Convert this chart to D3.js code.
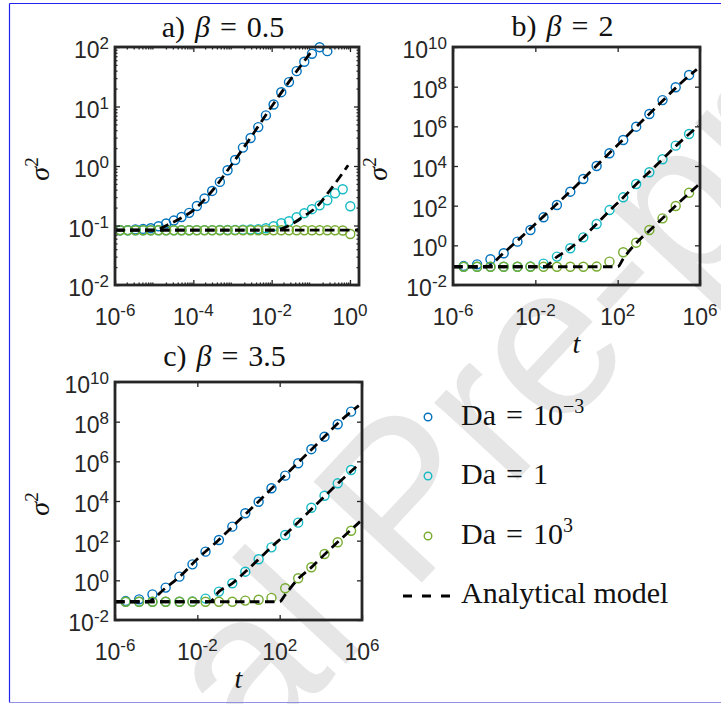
<!DOCTYPE html>
<html>
<head>
<meta charset="utf-8">
<script src="https://cdn.jsdelivr.net/npm/d3@7"></script>
<style>
  body { margin: 0; background: #fff; }
  svg { display: block; }
</style>
</head>
<body>
<svg id="fig" width="721" height="704"></svg>
<script>
// ---------- data ----------
// panel a (beta = 0.5): sampling times and variance per Damkohler number
const tA = [1.35e-6, 2.12e-6, 3.33e-6, 5.22e-6, 8.2e-6, 1.29e-5, 2.02e-5, 3.18e-5, 4.99e-5, 7.83e-5,
            1.23e-4, 1.93e-4, 3.03e-4, 4.76e-4, 7.48e-4, 1.17e-3, 1.85e-3, 2.9e-3, 4.55e-3, 7.14e-3,
            1.12e-2, 1.76e-2, 2.77e-2, 4.35e-2, 6.82e-2, 0.107, 0.168, 0.264, 0.415, 0.652, 1.02];
const sA_da1em3 = [0.0834, 0.0834, 0.0857, 0.0877, 0.0901, 0.0973, 0.108, 0.121, 0.139, 0.163,
                   0.213, 0.284, 0.381, 0.54, 0.848, 1.26, 2.04, 2.95, 4.51, 7.09,
                   10.8, 17.4, 25.7, 39.3, 56.5, 76.9, 99.3, 85.1];
const sA_da1 = [0.0833, 0.0833, 0.0833, 0.0833, 0.0833, 0.0833, 0.0833, 0.0833, 0.0833, 0.0833,
                0.0835, 0.0835, 0.0836, 0.0838, 0.084, 0.0843, 0.0848, 0.0857, 0.087, 0.090,
                0.097, 0.109, 0.118, 0.138, 0.161, 0.188, 0.218, 0.266, 0.348, 0.406, 0.211];
const sA_da1e3 = [0.0833, 0.0833, 0.0833, 0.0833, 0.0833, 0.0833, 0.0833, 0.0833, 0.0833, 0.0833,
                  0.0833, 0.0833, 0.0833, 0.0833, 0.0833, 0.0833, 0.0833, 0.0833, 0.0833, 0.0833,
                  0.0833, 0.0833, 0.0833, 0.0833, 0.0833, 0.0833, 0.0833, 0.0833, 0.0830, 0.0825, 0.072];

// panels b (beta = 2) and c (beta = 3.5) share one set of sampling times
const tBC = [3.3e-6, 1.48e-5, 6.6e-5, 2.9e-4, 1.35e-3, 5.8e-3, 2.5e-2, 0.112, 0.5, 2.14,
             9.5, 40, 186, 794, 3470, 1.51e4, 6.6e4, 2.95e5];
const sB_da1em3 = [0.09, 0.11, 0.198, 0.397, 1.53, 5.94, 25.9, 108, 507, 2210,
                   1.0e4, 4.4e4, 2.05e5, 9.6e5, 4.2e6, 2.1e7, 9.3e7, 3.9e8];
const sB_da1 = [0.0833, 0.0833, 0.0833, 0.0833, 0.0835, 0.085, 0.12, 0.27, 0.71, 2.53,
                11.9, 60, 264, 1240, 4820, 2.18e4, 1.06e5, 4.1e5];
const sB_da1e3 = [0.0833, 0.0833, 0.0833, 0.0833, 0.0833, 0.0833, 0.0833, 0.0833, 0.0833, 0.0833,
                  0.085, 0.15, 0.45, 1.36, 5.9, 23, 96, 450];
const sC_da1em3 = [0.09, 0.11, 0.197, 0.43, 1.53, 6.4, 27.9, 108, 509, 2400,
                   9200, 4.4e4, 1.9e5, 8.0e5, 4.1e6, 1.75e7, 7.4e7, 3.2e8];
const sC_da1 = [0.0833, 0.0833, 0.0833, 0.0833, 0.0835, 0.085, 0.12, 0.27, 0.71, 2.73,
                11.5, 46, 193, 810, 4570, 1.85e4, 7.8e4, 3.67e5];
const sC_da1e3 = [0.0833, 0.0833, 0.0833, 0.0833, 0.0833, 0.0833, 0.0833, 0.0833, 0.0833, 0.095,
                  0.105, 0.13, 0.40, 1.27, 4.55, 21.3, 83, 318];

// analytical model curves (time, variance)
const mA1em3_t = [1e-6, 1e-5, 2.4e-5, 5e-5, 1e-4, 3e-4, 1e-3, 3e-3, 1e-2, 3e-2, 0.11];
const mA1em3_s = [0.0833, 0.0833, 0.105, 0.135, 0.18, 0.38, 1.1, 3.1, 10, 28, 88];
const mA1_t = [1e-6, 1.2e-2, 2.9e-2, 6.2e-2, 0.14, 0.31, 0.9];
const mA1_s = [0.0833, 0.0833, 0.101, 0.139, 0.205, 0.391, 1.03];
const mA1e3_t = [1e-6, 1.7];
const mA1e3_s = [0.0833, 0.0833];

const mB1em3_t = [1e-6, 4e-5, 2.8e-4, 1e-3, 1e-2, 0.1, 1, 10, 100, 1e3, 1e4, 1e5, 7e5];
const mB1em3_s = [0.0833, 0.0833, 0.40, 1.3, 12, 110, 1050, 1.1e4, 1.15e5, 1.2e6, 1.25e7, 1.3e8, 7.5e8];
const mB1_t = [1e-6, 0.025, 0.112, 0.5, 2.14, 9.5, 40, 186, 794, 3470, 1.51e4, 6.6e4, 8.3e5];
const mB1_s = [0.0833, 0.0833, 0.26, 0.72, 2.6, 12, 55, 260, 1200, 5000, 2.2e4, 1.0e5, 1.05e6];
const mB1e3_t = [1e-6, 100, 190, 794, 3470, 1.51e4, 6.6e4, 8.3e5];
const mB1e3_s = [0.0833, 0.0833, 0.22, 1.3, 5.5, 23, 100, 1100];

const mC1em3_t = [1e-6, 3.5e-5, 2.9e-4, 1.35e-3, 1e-2, 0.1, 1, 10, 100, 1e3, 1e4, 1e5, 7e5];
const mC1em3_s = [0.0833, 0.0833, 0.42, 1.5, 12, 100, 1000, 1.0e4, 1.05e5, 1.1e6, 1.15e7, 1.2e8, 6.5e8];
const mC1_t = [1e-6, 0.04, 0.112, 0.5, 2.14, 9.5, 40, 186, 794, 3470, 1.51e4, 6.6e4, 8e5];
const mC1_s = [0.0833, 0.0833, 0.27, 0.71, 2.7, 11.5, 48, 200, 850, 3800, 1.7e4, 7.5e4, 8e5];
const mC1e3_t = [1e-6, 100, 180, 794, 3470, 1.51e4, 6.6e4, 8e5];
const mC1e3_s = [0.0833, 0.0833, 0.18, 1.2, 4.5, 20, 85, 910];

// axis ticks and their exponent labels
const xTicksA = [1e-6, 1e-4, 1e-2, 1];
const xExpA = ["-6", "-4", "-2", "0"];
const yTicksA = [1e-2, 1e-1, 1, 10, 100];
const yExpA = ["-2", "-1", "0", "1", "2"];
const xTicksBC = [1e-6, 1e-2, 1e2, 1e6];
const xExpBC = ["-6", "-2", "2", "6"];
const yTicksBC = [1e-2, 1, 1e2, 1e4, 1e6, 1e8, 1e10];
const yExpBC = ["-2", "0", "2", "4", "6", "8", "10"];

// legend entries
const legendNames = ["Da = 10", "Da = 1", "Da = 10"];
const legendExp = ["\u22123", "", "3"];
const seriesColors = ["#0072BD", "#16BAC4", "#77AC30"];

// ---------- drawing ----------
const SANS = "'Liberation Sans', Arial, Helvetica, sans-serif";
const SERIF = "'Liberation Serif', 'Times New Roman', serif";
const INK = "#262626";
const svg = d3.select("#fig");

// background watermark
svg.append("text")
  .attr("transform", "translate(-112,1155) rotate(-47)")
  .attr("font-family", SANS)
  .attr("font-size", 215)
  .attr("fill", "#e6e6e6")
  .text("Journal Pre-proof");

// page frame
svg.append("line").attr("x1", 9.5).attr("x2", 9.5).attr("y1", 3.5).attr("y2", 702.5)
  .attr("stroke", "#2222ee").attr("stroke-width", 1.2);
svg.append("line").attr("x1", 9.5).attr("x2", 721).attr("y1", 3.5).attr("y2", 3.5)
  .attr("stroke", "#2222ee").attr("stroke-width", 1.2);
svg.append("line").attr("x1", 9.5).attr("x2", 721).attr("y1", 702.5).attr("y2", 702.5)
  .attr("stroke", "#9090e6").attr("stroke-width", 1);

function minorTicks(lo, hi) {
  const out = [];
  const e0 = Math.floor(Math.log10(lo)), e1 = Math.ceil(Math.log10(hi));
  for (let e = e0; e <= e1; e++) {
    for (let m = 2; m <= 9; m++) {
      const v = m * Math.pow(10, e);
      if (v > lo && v < hi) out.push(v);
    }
  }
  return out;
}

function expLabel(g, x, y, exp, anchor) {
  const t = g.append("text")
    .attr("x", x).attr("y", y)
    .attr("text-anchor", anchor)
    .attr("font-family", SANS).attr("font-size", 23).attr("fill", INK);
  t.append("tspan").text("10");
  t.append("tspan").attr("font-size", 17).attr("dy", -9).text(exp);
}

function drawPanel(p) {
  const x = d3.scaleLog().domain(p.xDomain).range([p.left, p.right]);
  const y = d3.scaleLog().domain(p.yDomain).range([p.bottom, p.top]);
  const g = svg.append("g");

  // data markers
  p.series.forEach((s, i) => {
    g.append("g").selectAll("circle")
      .data(d3.zip(s.t, s.v))
      .join("circle")
      .attr("cx", d => x(d[0]))
      .attr("cy", d => y(d[1]))
      .attr("r", 4.5)
      .attr("fill", "none")
      .attr("stroke", seriesColors[i])
      .attr("stroke-width", 1.4);
  });

  // analytical model
  const line = d3.line().x(d => x(d[0])).y(d => y(d[1])).curve(d3.curveMonotoneX);
  p.models.forEach(m => {
    g.append("path")
      .attr("d", line(d3.zip(m.t, m.v)))
      .attr("fill", "none")
      .attr("stroke", "#000")
      .attr("stroke-width", 2.8)
      .attr("stroke-dasharray", "9.5,5.5");
  });

  // ticks on all four sides, pointing inward
  const tickStyle = sel => {
    sel.select(".domain").remove();
    sel.selectAll("line").attr("stroke", INK).attr("stroke-width", 1.3);
  };
  const addAxes = (xv, yv, len) => {
    g.append("g").attr("transform", `translate(0,${p.bottom})`)
      .call(d3.axisBottom(x).tickValues(xv).tickSize(-len).tickFormat("")).call(tickStyle);
    g.append("g").attr("transform", `translate(0,${p.top})`)
      .call(d3.axisTop(x).tickValues(xv).tickSize(-len).tickFormat("")).call(tickStyle);
    g.append("g").attr("transform", `translate(${p.left},0)`)
      .call(d3.axisLeft(y).tickValues(yv).tickSize(-len).tickFormat("")).call(tickStyle);
    g.append("g").attr("transform", `translate(${p.right},0)`)
      .call(d3.axisRight(y).tickValues(yv).tickSize(-len).tickFormat("")).call(tickStyle);
  };
  addAxes(p.xTicks, p.yTicks, 5);
  if (p.minor) {
    addAxes(minorTicks(p.xDomain[0], p.xDomain[1]), minorTicks(p.yDomain[0], p.yDomain[1]), 2.5);
  }

  // box
  g.append("rect")
    .attr("x", p.left).attr("y", p.top)
    .attr("width", p.right - p.left).attr("height", p.bottom - p.top)
    .attr("fill", "none").attr("stroke", INK).attr("stroke-width", 2.8);

  // tick labels
  p.xTicks.forEach((v, i) => expLabel(g, x(v), p.bottom + 40, p.xExp[i], "middle"));
  p.yTicks.forEach((v, i) => expLabel(g, p.left - 6, y(v) + 11, p.yExp[i], "end"));

  // title
  const cx = (p.left + p.right) / 2 - 14;
  const title = g.append("text")
    .attr("x", cx).attr("y", p.titleY)
    .attr("text-anchor", "middle")
    .attr("font-family", SERIF).attr("font-size", 30).attr("fill", "#111");
  title.append("tspan").text(p.tag + ")\u2004");
  title.append("tspan").attr("font-style", "italic").text("\u03B2");
  title.append("tspan").text("\u2004=\u2004" + p.beta);

  // y label
  const yl = g.append("text")
    .attr("transform", `translate(${p.left - 66},${(p.top + p.bottom) / 2 + 3}) rotate(-90)`)
    .attr("text-anchor", "middle")
    .attr("font-family", SERIF).attr("font-size", 28).attr("fill", "#111");
  yl.append("tspan").attr("font-style", "italic").text("\u03C3");
  yl.append("tspan").attr("font-size", 19).attr("dy", -11).text("2");

  // x label
  if (p.xLabel) {
    g.append("text")
      .attr("x", (p.left + p.right) / 2).attr("y", p.bottom + 68)
      .attr("text-anchor", "middle")
      .attr("font-family", SERIF).attr("font-size", 28).attr("font-style", "italic")
      .attr("fill", "#111")
      .text("t");
  }
}

drawPanel({
  tag: "a", beta: "0.5", titleY: 37,
  left: 115, right: 359, top: 47, bottom: 285,
  xDomain: [1e-6, 1.7], yDomain: [1e-2, 1e2],
  xTicks: xTicksA, xExp: xExpA, yTicks: yTicksA, yExp: yExpA, minor: true, xLabel: false,
  series: [{t: tA.slice(0, sA_da1em3.length), v: sA_da1em3}, {t: tA, v: sA_da1}, {t: tA, v: sA_da1e3}],
  models: [{t: mA1e3_t, v: mA1e3_s}, {t: mA1_t, v: mA1_s}, {t: mA1em3_t, v: mA1em3_s}]
});

drawPanel({
  tag: "b", beta: "2", titleY: 36,
  left: 453, right: 700, top: 47, bottom: 285,
  xDomain: [1e-6, 1e6], yDomain: [1e-2, 1e10],
  xTicks: xTicksBC, xExp: xExpBC, yTicks: yTicksBC, yExp: yExpBC, minor: false, xLabel: true,
  series: [{t: tBC, v: sB_da1em3}, {t: tBC, v: sB_da1}, {t: tBC, v: sB_da1e3}],
  models: [{t: mB1e3_t, v: mB1e3_s}, {t: mB1_t, v: mB1_s}, {t: mB1em3_t, v: mB1em3_s}]
});

drawPanel({
  tag: "c", beta: "3.5", titleY: 366,
  left: 115, right: 362, top: 382, bottom: 620,
  xDomain: [1e-6, 1e6], yDomain: [1e-2, 1e10],
  xTicks: xTicksBC, xExp: xExpBC, yTicks: yTicksBC, yExp: yExpBC, minor: false, xLabel: true,
  series: [{t: tBC, v: sC_da1em3}, {t: tBC, v: sC_da1}, {t: tBC, v: sC_da1e3}],
  models: [{t: mC1e3_t, v: mC1e3_s}, {t: mC1_t, v: mC1_s}, {t: mC1em3_t, v: mC1em3_s}]
});

// legend
const legend = svg.append("g");
const legendRows = [425, 484, 544];
legendNames.forEach((name, i) => {
  legend.append("circle")
    .attr("cx", 428).attr("cy", legendRows[i] - 8)
    .attr("r", 3.8).attr("fill", "none")
    .attr("stroke", seriesColors[i]).attr("stroke-width", 1.4);
  const parts = name.split(" = ");
  const t = legend.append("text")
    .attr("x", 461).attr("y", legendRows[i])
    .attr("font-family", SERIF).attr("font-size", 30).attr("fill", "#111");
  t.append("tspan").text(parts[0] + "\u2004=\u2004" + parts[1]);
  if (legendExp[i]) t.append("tspan").attr("font-size", 20).attr("dy", -12).text(legendExp[i]);
});
legend.append("line")
  .attr("x1", 403).attr("x2", 451).attr("y1", 596).attr("y2", 596)
  .attr("stroke", "#000").attr("stroke-width", 2.8).attr("stroke-dasharray", "9,10");
legend.append("text")
  .attr("x", 461).attr("y", 603)
  .attr("font-family", SERIF).attr("font-size", 30).attr("fill", "#111")
  .text("Analytical model");
</script>
</body>
</html>
